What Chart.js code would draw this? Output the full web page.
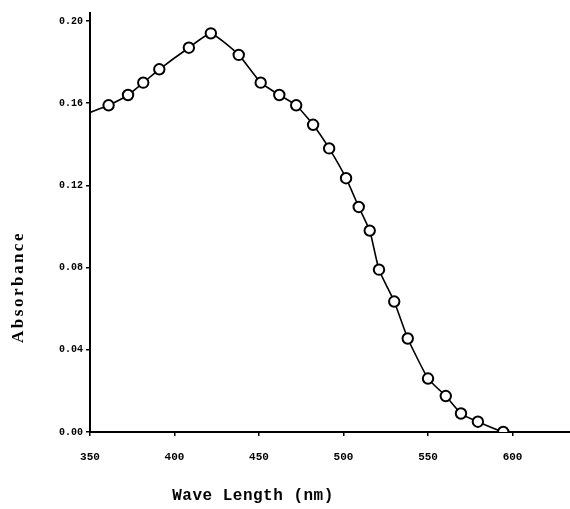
<!DOCTYPE html>
<html>
<head>
<meta charset="utf-8">
<script src="https://cdn.jsdelivr.net/npm/chart.js@4"></script>
<style>
  html, body { margin: 0; padding: 0; background: #fff; }
  canvas { display: block; }
</style>
</head>
<body>
<canvas id="grafico" width="570" height="509"></canvas>
<script>
// datos
const longitudOnda = [361, 372.5, 381.5, 391, 408.5, 421.5, 438, 451, 462, 472, 482, 491.5,
    501.5, 509, 515.5, 521, 530, 538, 550, 560.5, 569.5, 579.5, 594.5];
const absorbancia = [0.159, 0.164, 0.170, 0.1765, 0.187, 0.194, 0.1835, 0.170, 0.164, 0.159, 0.1495, 0.138,
    0.1235, 0.1095, 0.098, 0.079, 0.0635, 0.0455, 0.026, 0.0175, 0.009, 0.005, 0.0];

// extremos de la curva ajustada (sin marcador)
const curvaInicio = [350, 0.1555];
const curvaFin = [601, -0.001];

const ticksX = [350, 400, 450, 500, 550, 600];
const ticksY = [0.00, 0.04, 0.08, 0.12, 0.16, 0.20];

const puntos = longitudOnda.map((x, i) => ({ x: x, y: absorbancia[i] }));
const curva = [{ x: curvaInicio[0], y: curvaInicio[1] }]
    .concat(puntos)
    .concat([{ x: curvaFin[0], y: curvaFin[1] }]);

// Dibuja los titulos de los ejes donde estan en la figura original
const titulosEjes = {
    id: 'titulosEjes',
    afterDraw(chart) {
        const ctx = chart.ctx;
        const tx = chart.options.scales.x.title.text;
        const ty = chart.options.scales.y.title.text;
        ctx.save();
        ctx.fillStyle = '#000';
        ctx.textAlign = 'center';
        ctx.textBaseline = 'middle';

        ctx.font = 'bold 16px "Liberation Mono"';
        ctx.letterSpacing = '0.5px';
        ctx.fillText(tx, 253, 496);

        ctx.translate(19, 287);
        ctx.rotate(-Math.PI / 2);
        ctx.font = 'bold 17px "Liberation Serif"';
        ctx.letterSpacing = '2.5px';
        ctx.fillText(ty, 0, 0);
        ctx.restore();
    }
};

const ctx = document.getElementById('grafico').getContext('2d');
new Chart(ctx, {
    type: 'scatter',
    data: {
        datasets: [{
            label: 'curva',
            data: curva,
            showLine: true,
            borderColor: '#000',
            borderWidth: 1.6,
            pointRadius: 0,
            tension: 0.15,
            order: 2
        }, {
            label: 'Absorbance',
            data: puntos,
            showLine: false,
            pointRadius: 5.2,
            pointBorderWidth: 2,
            pointBackgroundColor: '#fff',
            pointBorderColor: '#000',
            order: 1
        }]
    },
    options: {
        responsive: false,
        animation: false,
        layout: { autoPadding: false, padding: { top: 13, right: 0, left: 0, bottom: 0 } },
        plugins: {
            legend: { display: false },
            tooltip: { enabled: false }
        },
        scales: {
            x: {
                type: 'linear',
                min: 350,
                max: 634,
                afterBuildTicks: s => { s.ticks = ticksX.map(v => ({ value: v })); },
                afterFit: s => { s.height = 77; s.paddingRight = 0; s.paddingLeft = 0; },
                border: { display: true, color: '#000', width: 2 },
                grid: { drawOnChartArea: false, drawTicks: true, tickLength: 4, color: '#000', lineWidth: 1.5 },
                ticks: {
                    color: '#000',
                    padding: 15,
                    maxRotation: 0,
                    font: { family: 'Liberation Mono', size: 11, weight: 'bold' },
                    callback: v => String(v)
                },
                title: { display: false, text: 'Wave Length (nm)' }
            },
            y: {
                type: 'linear',
                min: 0,
                max: 0.2039,
                afterBuildTicks: s => { s.ticks = ticksY.map(v => ({ value: v })); },
                afterFit: s => { s.width = 90; s.paddingTop = 0; s.paddingBottom = 0; },
                border: { display: true, color: '#000', width: 2 },
                grid: { drawOnChartArea: false, drawTicks: true, tickLength: 4, color: '#000', lineWidth: 1.5 },
                ticks: {
                    color: '#000',
                    padding: 3,
                    font: { family: 'Liberation Mono', size: 10, weight: 'bold' },
                    callback: v => v.toFixed(2)
                },
                title: { display: false, text: 'Absorbance' }
            }
        }
    },
    plugins: [titulosEjes]
});
</script>
</body>
</html>
